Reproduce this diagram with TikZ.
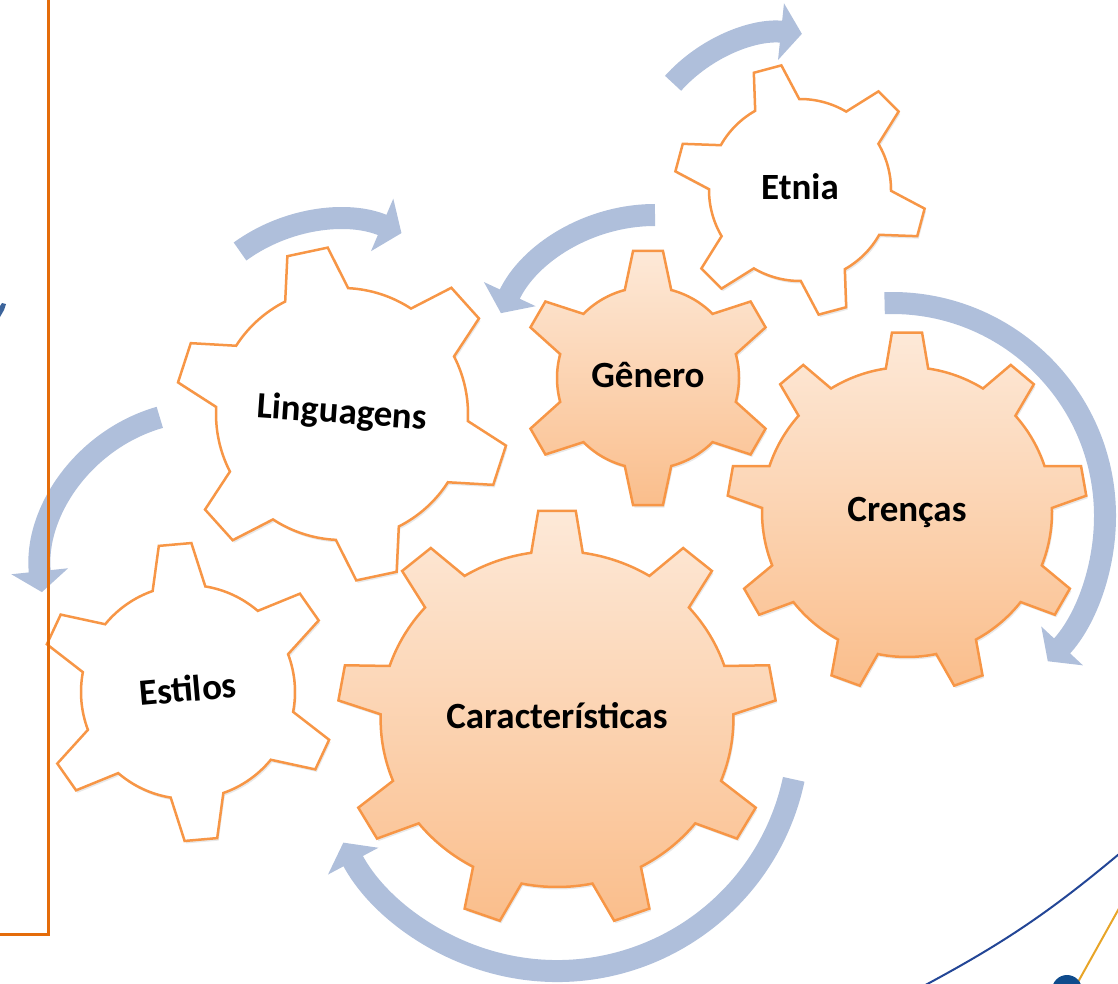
\documentclass[tikz,border=0pt]{standalone}
\usepackage{fontspec}
\setmainfont{Carlito}
\usepackage{tikz}
\usetikzlibrary{positioning, arrows.meta, shadows, backgrounds}

\definecolor{gearline}{RGB}{247,150,70}
\definecolor{gearlight}{RGB}{253,233,216}
\definecolor{geardark}{RGB}{250,190,140}
\definecolor{turnblue}{RGB}{175,191,219}
\definecolor{frameorange}{RGB}{228,108,10}
\definecolor{logoblue}{RGB}{35,70,150}
\definecolor{logodot}{RGB}{15,75,140}
\definecolor{logogold}{RGB}{232,165,40}
\definecolor{commablue}{RGB}{60,100,155}

% #1 style, #2 teeth, #3 first tooth angle, #4 outer radius, #5 inner radius,
% #6 half angle at the tip, #7 half angle at the foot
\newcommand{\gear}[7]{%
  \pgfmathsetmacro{\gstep}{360/#2}
  \path[#1] (#3-#7:#5)
    \foreach \k in {1,...,#2}{
      -- ({#3+(\k-1)*\gstep-#6}:#4) -- ({#3+(\k-1)*\gstep+#6}:#4)
      -- ({#3+(\k-1)*\gstep+#7}:#5)
      arc[start angle={#3+(\k-1)*\gstep+#7}, end angle={#3+\k*\gstep-#7}, radius=#5]
    } -- cycle;
}

\begin{document}
\begin{tikzpicture}[x=1pt,y=1pt,on grid,
    gear text/.style={font=\fontsize{37}{41}\selectfont\bfseries, text height=26pt, text depth=7pt, inner sep=0pt},
    white gear/.style={draw=gearline, line width=2.5pt, fill=white,
                       drop shadow={opacity=0.18, shadow xshift=1.5pt, shadow yshift=-2.5pt}},
    orange gear/.style={white gear, top color=gearlight, bottom color=geardark},
    turn arrow/.style={turnblue, line width=22pt, -{Triangle[width=56pt,length=21pt]}}]

  \useasboundingbox (0,0) rectangle (1118,-984);

  \node[gear text, rotate=-4] (ling) at (342,-414) {Linguagens};
  \node[gear text, rotate=5] (estilos) [below left=278pt and 154pt of ling] {Estilos};
  \node[gear text] (carac) [below right=305pt and 215pt of ling] {Características};
  \node[gear text] (genero) [above right=36pt and 306pt of ling] {Gênero};
  \node[gear text] (etnia) [above right=188pt and 152pt of genero] {Etnia};
  \node[gear text] (crencas) [below right=134pt and 259pt of genero] {Crenças};

  \begin{pgfonlayer}{background}
    \gear{white gear, shift={(etnia)}}{6}{105}{126}{91}{6.5}{14.5}
    \gear{orange gear, shift={(genero)}}{6}{90}{128}{91}{6.7}{14.8}
    \gear{orange gear, shift={(crencas)}}{9}{90}{180}{145}{4.8}{8.4}
    \gear{white gear, shift={(ling)}}{6}{102}{167}{126}{7.1}{14.8}
    \gear{white gear, shift={(estilos)}}{6}{95}{149}{107}{6.3}{14.3}
    \gear{orange gear, shift={(carac)}, xscale=1.05}{9}{90}{209}{168}{4.9}{8.4}
  \end{pgfonlayer}

  % turning arrows
  \draw[turn arrow] ([shift={(138:152)}]786,-185) arc[start angle=138, end angle=84, radius=152];
  \draw[turn arrow] ([shift={(90:170)}]655,-385) arc[start angle=90, end angle=155, radius=170];
  \draw[turn arrow] ([shift={(126:165)}]337,-385) arc[start angle=126, end angle=67, radius=165];
  \draw[turn arrow] ([shift={(106:164)}]205,-575) arc[start angle=106, end angle=186, radius=164];
  \draw[turn arrow] ([shift={(92:213)}]892,-516) arc[start angle=92, end angle=-43, radius=213];
  \draw[turn arrow] ([shift={(-12:242)}]557,-729) arc[start angle=-12, end angle=-152, radius=242];

  % slide frame and logo
  \draw[frameorange, line width=3pt] (48,2) -- (48,-934) -- (-2,-934);
  \fill[commablue] (2,-303) -- (6,-304) -- (4,-310) -- (0,-317) -- (0,-306) -- cycle;
  \draw[logoblue, line width=2pt] (1125,-849) to[bend left=6] (918,-989);
  \draw[logogold, line width=2pt] (1122,-903) -- (1078,-982);
  \fill[logodot] (1067,-990) circle (15);
\end{tikzpicture}
\end{document}
